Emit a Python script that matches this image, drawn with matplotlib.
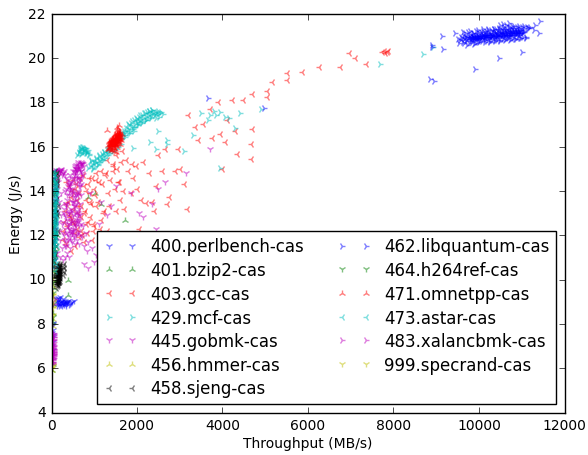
import matplotlib
matplotlib.use('Agg')
import matplotlib.pyplot as plt

plt.style.use('classic')

perlbench_x = [20, 25, 30, 22, 28, 35, 18, 30, 40, 25, 120, 150, 180, 200, 230, 260, 290, 310, 340, 370, 400, 430, 470, 520, 160, 210, 270, 330, 390, 140, 240, 300, 60, 80, 90, 100, 350, 450, 170, 190, 220, 250, 280, 320, 360, 135, 155, 175, 60, 70, 45, 85, 55, 75]
perlbench_y = [7.0, 7.2, 7.4, 7.6, 7.7, 7.5, 7.9, 8.0, 8.05, 6.8, 9.0, 8.9, 9.1, 8.85, 9.0, 8.95, 8.85, 9.05, 8.9, 8.95, 8.85, 8.9, 9.0, 9.05, 9.15, 9.2, 9.1, 8.8, 9.05, 8.8, 8.8, 8.95, 10.5, 11.2, 12.3, 13.1, 9.0, 8.95, 8.95, 9.0, 8.85, 9.05, 8.9, 8.95, 9.0, 9.1, 9.05, 8.8, 11.8, 12.8, 14.1, 13.6, 14.6, 10.9]

bzip2_x = [20, 25, 30, 35, 40, 45, 50, 55, 60, 30, 40, 50, 70, 80, 380, 390, 860, 1020, 1160, 1730, 90, 120, 140, 60, 45, 35]
bzip2_y = [5.9, 6.2, 8.1, 8.5, 8.9, 9.2, 9.6, 10.1, 10.6, 11.1, 11.6, 12.1, 12.6, 13.2, 10.0, 9.3, 13.7, 13.9, 13.4, 12.7, 11.1, 12.0, 13.0, 14.0, 14.4, 14.8]

gcc_x = [7730, 7770, 7810, 7850, 7880, 6950, 7100, 7350, 6750, 6250, 5850, 5500, 5500, 5150, 5050, 5050, 4700, 4480, 4220, 3900, 3700, 4700, 4670, 4350, 4670, 4050, 4000, 3950, 4300, 4100, 3350, 3200, 3420, 2950, 3000, 2900, 3180, 2700, 2350, 2100, 2200, 2000, 1900, 2500, 2650, 1750, 1650, 1500, 1450, 1300, 1250, 1150, 1100, 1050, 1000, 950, 900, 850, 800, 750, 700, 650, 600, 550, 500, 450, 400, 350, 300, 1700, 1600, 1500, 1350, 1200, 1050, 1150, 900, 1000, 800, 700, 600, 500, 1300, 1250, 1100, 950, 750, 650, 550, 450, 350, 1700, 1850, 2050, 1450, 1550, 2400, 2750, 3100, 3550, 3750, 2450, 2150,
         260, 310, 360, 410, 460, 510, 560, 610, 660, 710, 760, 810, 860, 910, 960, 1010, 280, 330, 380, 430, 480, 530, 580, 630, 680, 730, 780, 830, 880, 930, 980, 1030, 1080, 1130, 1180, 1230, 1280, 1330, 1380, 1430, 1480, 1530, 1580, 1630, 1680, 1780, 1880, 1980, 2280, 2580]
gcc_y = [20.25, 20.3, 20.2, 20.25, 20.3, 20.2, 20.0, 19.7, 19.6, 19.6, 19.35, 19.3, 19.0, 18.9, 18.5, 18.25, 18.35, 18.1, 18.1, 18.0, 17.7, 16.8, 16.1, 15.65, 15.45, 16.2, 15.0, 16.55, 16.7, 17.2, 16.9, 17.4, 16.3, 15.9, 15.0, 14.9, 13.2, 13.4, 13.5, 13.6, 13.45, 14.1, 14.6, 15.6, 15.9, 15.4, 15.8, 15.6, 14.9, 15.4, 14.7, 14.9, 14.4, 14.8, 14.1, 14.6, 13.9, 14.3, 13.6, 14.2, 13.3, 13.9, 13.6, 14.1, 13.2, 13.7, 12.9, 13.4, 12.6, 13.2, 13.6, 13.1, 13.3, 13.0, 13.3, 12.7, 12.8, 12.4, 12.5, 12.8, 12.3, 12.6, 12.2, 11.9, 12.1, 11.8, 11.7, 11.9, 11.5, 11.3, 11.6, 12.0, 13.9, 12.3, 15.2, 14.4, 13.1, 13.7, 14.3, 17.0, 16.4, 14.2, 15.3,
         12.2, 13.1, 12.4, 14.2, 12.7, 14.5, 12.1, 13.3, 14.6, 12.0, 13.0, 14.0, 12.6, 13.5, 12.2, 13.8, 11.8, 14.4, 13.5, 12.8, 14.0, 12.5, 14.3, 13.0, 12.2, 14.7, 13.1, 12.1, 14.6, 13.4, 12.5, 14.5, 13.5, 12.3, 14.3, 13.1, 14.8, 13.9, 14.5, 15.1, 14.1, 15.0, 14.4, 15.3, 14.0, 14.9, 15.2, 15.1, 14.8, 14.9]

mcf_x = [1900, 1950, 2000, 2050, 2100, 2150, 2200, 2250, 2300, 2350, 2400, 2450, 1800, 1850, 1750, 1700, 1650, 1600, 1550, 1500, 1450, 1400, 1350, 1300, 1250, 1200, 1150, 1100, 1050, 1000, 950, 900, 850, 800, 750, 700, 650, 600, 680, 720, 760, 800, 840, 880, 920, 1780, 1880, 1980, 2080, 2180, 2280, 2020, 2120, 2220, 2320, 1120, 1220, 1320, 1180, 1080, 980, 1030, 930, 1930, 1830, 1730, 1630, 2600, 2350, 3500, 3800, 3950, 4150, 4400, 4900, 3650, 3700, 3850, 4050, 2500, 2700, 7685, 8690, 8930, 3100, 3300, 2450, 1900, 4300, 3950, 2700, 2300,
         1660, 1690, 1720, 1750, 1780, 1810, 1840, 1870, 1900, 1930, 1960, 1990, 2020, 2050, 2080, 2110, 2140, 2170, 2200, 2230, 2260, 2290, 2320, 2350, 2380, 960, 990, 1020, 1050, 1080, 1110, 1140, 1170, 1200, 1230, 1260, 1290, 1320, 1350, 1380, 1410, 1440, 1470, 1500, 1530, 1560, 1590, 1620, 1650, 640, 670, 700, 730, 760, 790, 820, 850, 880, 660, 710, 770, 830, 2420, 2460, 2500, 2540, 2570, 2440, 2480, 2520]
mcf_y = [16.9, 17.0, 17.1, 17.15, 17.25, 17.3, 17.35, 17.4, 17.45, 17.5, 17.55, 17.5, 16.8, 16.9, 16.7, 16.6, 16.5, 16.4, 16.3, 16.2, 16.05, 15.9, 15.8, 15.7, 15.6, 15.55, 15.45, 15.4, 15.3, 15.25, 15.2, 15.1, 15.05, 15.7, 15.85, 15.9, 15.75, 15.6, 15.95, 16.0, 15.8, 15.95, 15.75, 15.6, 15.4, 17.0, 17.15, 17.3, 17.4, 17.5, 17.6, 16.95, 17.05, 17.2, 17.3, 15.6, 15.75, 15.9, 15.45, 15.15, 15.05, 15.5, 15.35, 16.7, 16.6, 16.45, 16.65, 17.45, 17.65, 17.5, 17.6, 17.55, 17.3, 17.5, 17.7, 17.2, 17.4, 17.4, 17.35, 16.7, 16.1, 19.7, 20.17, 20.5, 15.8, 16.5, 15.9, 15.95, 16.85, 15.05, 16.3, 16.2,
         16.4, 16.7, 16.5, 16.85, 16.6, 16.95, 16.7, 17.05, 16.8, 17.2, 16.9, 17.25, 17.0, 17.35, 17.1, 17.4, 17.15, 17.5, 17.2, 17.55, 17.3, 17.6, 17.35, 17.65, 17.45, 15.0, 15.3, 15.1, 15.45, 15.2, 15.55, 15.3, 15.65, 15.4, 15.75, 15.5, 15.85, 15.6, 15.95, 15.7, 16.05, 15.8, 16.15, 15.9, 16.2, 16.0, 16.35, 16.1, 16.5, 15.7, 15.95, 15.65, 16.0, 15.75, 15.95, 15.7, 15.85, 15.65, 15.85, 15.7, 15.9, 15.8, 17.4, 17.55, 17.45, 17.5, 17.55, 17.3, 17.6, 17.35]

gobmk_x = [50, 80, 110, 140, 170, 200, 230, 260, 290, 320, 350, 380, 410, 440, 470, 500, 530, 560, 590, 620, 650, 100, 130, 160, 190, 220, 250, 280, 310, 340, 370, 400, 430, 460, 490, 520, 550, 580, 610, 640, 120, 150, 180, 210, 240, 270, 300, 330, 360, 390, 420, 450, 480, 510, 540, 570, 600, 140, 200, 260, 320, 380, 440, 500, 560, 620, 680, 740, 800, 860, 170, 230, 290, 350, 410, 470, 530, 590, 650, 710, 770, 830, 520, 560, 600, 640, 680, 720, 760, 500, 540, 580, 620, 660, 700, 740, 480, 460, 440, 420, 400, 1100, 1200, 1350, 1450, 1300, 1600, 1850, 2150, 2350, 2500, 2650, 2450, 2250, 1050, 1000, 1400, 1700, 1950, 2050, 750, 900, 1150, 1500, 850, 950, 3150, 3700,
           300, 320, 340, 360, 380, 400, 420, 440, 460, 480, 500, 520, 540, 560, 580, 600, 620, 640, 660, 680, 310, 330, 350, 370, 390, 410, 430, 450, 470, 490, 510, 530, 550, 570, 590, 610, 630, 650, 670, 690, 305, 345, 385, 425, 465, 505, 545, 585, 625, 665, 325, 365, 405, 445, 485, 525, 565, 605, 645, 685, 540, 570, 600, 630, 660, 690, 720, 550, 590, 630, 670, 710, 560, 610, 660, 700, 580, 640, 680, 730, 120, 170, 220, 270, 130, 190, 250, 150, 210, 100]
gobmk_y = [14.9, 14.85, 14.95, 14.8, 14.9, 14.85, 14.95, 14.8, 14.9, 14.7, 14.6, 14.5, 14.3, 14.1, 13.9, 13.7, 13.5, 13.3, 13.1, 12.9, 12.7, 14.5, 14.1, 13.7, 13.3, 12.9, 12.5, 12.1, 11.8, 11.5, 11.2, 11.0, 11.4, 11.8, 12.2, 12.6, 13.0, 13.4, 13.8, 14.2, 13.0, 12.6, 12.2, 11.8, 11.4, 12.6, 13.0, 13.4, 13.8, 14.2, 12.3, 12.7, 13.1, 13.5, 13.9, 12.4, 12.8, 11.2, 11.0, 10.9, 11.0, 12.0, 12.1, 12.3, 12.5, 12.2, 12.0, 12.4, 12.1, 11.7, 13.5, 13.9, 13.2, 12.8, 12.5, 12.1, 12.0, 11.8, 11.6, 11.9, 11.5, 11.3, 14.7, 14.85, 15.0, 15.1, 15.2, 15.25, 15.1, 14.9, 15.05, 15.15, 15.3, 15.05, 14.9, 14.7, 14.6, 14.4, 14.2, 14.0, 13.8, 12.5, 12.1, 11.8, 11.4, 12.9, 12.0, 13.9, 12.8, 13.4, 14.1, 14.4, 12.3, 12.0, 11.1, 10.8, 13.3, 11.9, 11.6, 13.0, 10.7, 13.9, 13.5, 14.2, 10.5, 11.4, 14.8, 15.9,
           12.0, 12.9, 11.7, 13.6, 12.4, 14.3, 13.1, 11.9, 12.8, 14.0, 12.2, 13.3, 14.5, 11.6, 12.6, 13.9, 12.1, 13.2, 14.2, 12.5, 12.3, 13.4, 14.1, 12.7, 11.8, 13.0, 14.4, 12.2, 13.5, 11.7, 12.9, 14.6, 13.7, 12.0, 12.7, 14.0, 13.0, 14.4, 12.9, 13.8, 11.5, 13.3, 12.5, 14.7, 13.2, 12.4, 14.3, 13.6, 12.6, 13.4, 14.0, 12.1, 13.0, 12.6, 14.1, 11.9, 13.8, 14.6, 12.4, 14.3, 14.9, 15.0, 14.7, 15.2, 15.0, 15.3, 14.8, 15.1, 14.9, 15.1, 14.6, 15.2, 14.8, 15.05, 14.5, 15.2, 15.0, 14.6, 14.9, 15.2, 14.9, 14.7, 15.0, 14.8, 14.5, 14.9, 14.7, 14.4, 14.95, 14.2]

hmmer_x = [15, 20, 25, 30, 35, 20, 25, 30, 35, 40, 45, 50, 55, 40]
hmmer_y = [5.9, 6.1, 6.3, 7.9, 8.2, 8.5, 8.8, 9.1, 9.4, 9.7, 10.0, 10.4, 10.8, 11.2]

sjeng_x = [130, 140, 150, 160, 170, 180, 190, 200, 110, 120, 135, 145, 155, 165, 175, 185, 195, 130, 140, 150, 160, 170, 180, 190, 200, 115, 125, 210, 105, 125, 145, 165, 135, 155, 175, 195, 255, 270, 285, 300, 275, 290, 30, 40, 50, 60, 70, 80, 90, 100, 35, 45, 55, 65, 75, 85, 95, 105, 40, 50, 60, 70, 80, 90, 100, 30, 45, 65, 85, 110, 130, 150,
          110, 120, 130, 140, 150, 160, 170, 180, 190, 115, 125, 135, 145, 155, 165, 175, 185, 195, 105, 140, 175, 120, 160, 40, 60, 80, 100, 120, 50, 70, 90, 110, 130, 45, 65, 85, 105, 125, 55, 75, 95, 115, 135, 150]
sjeng_y = [9.7, 9.8, 9.9, 10.0, 10.1, 10.2, 10.3, 10.4, 9.6, 9.8, 10.2, 10.3, 10.4, 10.5, 10.55, 10.6, 10.7, 10.5, 10.6, 10.7, 9.75, 9.9, 10.0, 9.95, 10.05, 10.1, 10.3, 10.2, 9.9, 10.7, 10.15, 10.25, 9.95, 9.85, 10.4, 10.55, 10.45, 10.6, 10.5, 10.7, 10.2, 10.35, 10.2, 10.6, 11.0, 11.4, 11.8, 12.2, 12.6, 13.0, 13.4, 13.8, 14.2, 14.6, 14.9, 11.1, 11.5, 11.9, 12.3, 12.7, 13.1, 13.5, 13.9, 14.3, 14.7, 10.8, 11.7, 12.4, 13.2, 14.1, 12.9, 13.3,
          9.9, 10.0, 10.1, 10.2, 10.3, 10.4, 10.45, 10.5, 10.65, 10.05, 10.15, 10.25, 9.9, 10.0, 10.1, 10.2, 10.3, 10.4, 10.1, 9.8, 9.9, 10.4, 10.3, 11.3, 12.0, 12.8, 13.6, 14.4, 11.6, 12.5, 13.3, 14.1, 14.8, 10.9, 11.9, 12.7, 13.5, 14.3, 11.2, 12.1, 13.0, 13.8, 14.6, 12.2]

libquantum_x = [8855, 8950, 8900, 8910, 9135, 9160, 9440, 9905, 10465, 11000, 11420, 11410, 11300, 11200, 11150, 11280, 10490, 10560, 10640, 10770, 10700, 9500, 9530, 9580, 9620, 9660, 9700, 9740, 9780, 9820, 9860, 9900, 9940, 9980, 10020, 10060, 10100, 10140, 10180, 10220, 10260, 10300, 10340, 10380, 10420, 10460, 10500, 10540, 10580, 10620, 10660, 10700, 10740, 10780, 10820, 10860, 10900, 10940, 10980, 11020, 11060, 11100,
                9560, 9610, 9650, 9690, 9730, 9770, 9810, 9850, 9890, 9930, 9970, 10010, 10050, 10090, 10130, 10170, 10210, 10250, 10290, 10330, 10370, 10410, 10450, 10490, 10530, 10570, 10610, 10650, 10690, 10730, 10770, 10810, 10850, 10890, 10930, 10970, 11010, 11050,
                9800, 9830, 9860, 9890, 9920, 9950, 9980, 10010, 10040, 10070, 10100, 10130, 10160, 10190, 10220, 10250, 10280, 10310, 10340, 10370, 10400, 10430, 10460, 10490, 10520, 10550, 10580, 10610, 10640, 10670, 10700, 10730, 10760, 10790, 10820, 10850, 10880, 10910, 10940, 10970,
                9810, 9845, 9875, 9905, 9935, 9965, 9995, 10025, 10055, 10085, 10115, 10145, 10175, 10205, 10235, 10265, 10295, 10325, 10355, 10385, 10415, 10445, 10475, 10505, 10535, 10565, 10595, 10625, 10655, 10685, 10715, 10745, 10775, 10805, 10835, 10865, 10895, 10925, 10955, 10985,
                4980, 3650, 9700, 9850, 10000, 10150, 10300, 10450, 10600, 10750, 10900, 11050,
                9620, 9680, 9740, 9800, 9860, 9920, 9980, 10040, 10100, 10160, 10220, 10280, 10340, 10400, 10460, 10520, 10580, 10640, 10700, 10760, 10820, 10880, 10940, 11000, 11060, 11120, 11180,
                9650, 9710, 9770, 9830, 9890, 9950, 10010, 10070, 10130, 10190, 10250, 10310, 10370, 10430, 10490, 10550, 10610, 10670, 10730, 10790, 10850, 10910, 10970, 11030, 11090]
libquantum_y = [19.05, 18.95, 20.6, 20.5, 21.0, 20.4, 21.1, 19.5, 20.0, 20.25, 21.65, 21.1, 21.5, 21.4, 21.35, 21.25, 21.5, 21.52, 21.5, 21.45, 21.55, 20.85, 20.65, 20.95, 20.7, 21.0, 20.75, 20.9, 21.05, 20.75, 21.1, 20.65, 20.9, 21.15, 20.75, 21.0, 21.2, 20.8, 21.05, 21.25, 20.75, 21.0, 21.3, 20.8, 21.05, 21.3, 20.8, 21.05, 21.3, 20.85, 21.1, 21.35, 20.85, 21.1, 21.35, 20.85, 21.1, 21.35, 20.9, 21.15, 21.35, 20.95,
                20.8, 20.9, 20.85, 20.95, 20.85, 20.95, 20.85, 20.95, 20.9, 21.0, 20.9, 21.0, 20.9, 21.0, 20.95, 21.05, 20.95, 21.05, 20.95, 21.05, 20.95, 21.05, 21.0, 21.1, 21.0, 21.1, 21.0, 21.1, 21.0, 21.1, 21.05, 21.15, 21.05, 21.15, 21.05, 21.15, 21.1, 21.2,
                20.95, 20.85, 20.95, 20.85, 20.95, 20.9, 21.0, 20.9, 21.0, 20.95, 21.05, 20.95, 21.05, 20.95, 21.05, 20.95, 21.05, 21.0, 21.1, 21.0, 21.1, 21.0, 21.1, 21.0, 21.1, 21.05, 21.15, 21.05, 21.15, 21.05, 21.15, 21.05, 21.15, 21.1, 21.2, 21.1, 21.2, 21.1, 21.2, 21.1,
                20.9, 21.0, 20.9, 21.0, 20.85, 21.0, 20.9, 21.05, 20.9, 21.05, 20.95, 21.1, 20.95, 21.1, 20.95, 21.1, 21.0, 21.15, 21.0, 21.15, 21.0, 21.15, 21.0, 21.15, 21.05, 21.2, 21.05, 21.2, 21.05, 21.2, 21.05, 21.2, 21.1, 21.25, 21.1, 21.25, 21.1, 21.25, 21.1, 21.25,
                17.75, 18.2, 20.95, 21.0, 20.95, 21.0, 21.0, 21.05, 21.05, 21.1, 21.1, 21.15,
                21.15, 21.1, 21.18, 21.2, 21.12, 21.22, 21.25, 21.18, 21.28, 21.22, 21.3, 21.25, 21.32, 21.28, 21.35, 21.3, 21.38, 21.32, 21.4, 21.35, 21.42, 21.38, 21.45, 21.4, 21.42, 21.38, 21.36,
                20.65, 20.6, 20.68, 20.7, 20.62, 20.72, 20.7, 20.75, 20.7, 20.78, 20.72, 20.8, 20.75, 20.82, 20.78, 20.85, 20.8, 20.88, 20.82, 20.9, 20.85, 20.92, 20.88, 20.95, 20.9]

h264ref_x = [30, 35, 40, 45, 50, 55, 60, 65, 40, 50, 60, 70, 75, 80, 90, 100]
h264ref_y = [8.3, 8.9, 9.4, 9.9, 10.4, 10.9, 11.4, 11.9, 12.4, 12.9, 13.4, 13.9, 14.4, 14.8, 12.1, 11.3]

omnetpp_x = [1350, 1380, 1400, 1420, 1440, 1460, 1480, 1500, 1520, 1540, 1560, 1580, 1600, 1620, 1640, 1360, 1390, 1410, 1430, 1450, 1470, 1490, 1510, 1530, 1550, 1570, 1590, 1610, 1630, 1370, 1400, 1430, 1460, 1490, 1520, 1550, 1580, 1610, 1300, 1330, 1320, 1345, 1375, 1405, 1435, 1465, 1495, 1525, 1555, 1585, 1405, 1445, 1485, 1525, 1565, 1605, 1535, 1575, 1505, 1455, 1500, 1540,
             1340, 1365, 1385, 1415, 1425, 1445, 1455, 1475, 1485, 1505, 1515, 1535, 1545, 1565, 1575, 1595, 1605, 1355, 1375, 1395, 1420, 1440, 1460, 1480, 1500, 1520, 1540, 1560, 1580, 1600, 1350, 1390, 1430, 1470, 1510, 1550, 1590, 1410, 1450, 1490, 1530, 1570]
omnetpp_y = [15.9, 16.0, 16.1, 15.85, 16.0, 16.15, 16.3, 16.1, 16.25, 16.4, 16.2, 16.35, 16.5, 16.3, 16.55, 16.15, 16.25, 15.95, 16.2, 16.35, 15.95, 16.05, 16.45, 16.0, 16.5, 16.55, 16.25, 16.65, 16.45, 16.3, 15.85, 16.05, 16.25, 15.9, 16.05, 16.1, 16.6, 16.1, 16.75, 15.9, 16.05, 16.2, 16.1, 16.15, 16.3, 16.5, 16.4, 16.6, 16.65, 16.7, 16.35, 16.45, 16.55, 16.75, 16.85, 16.35, 16.9, 16.95, 16.45, 15.8, 15.75, 16.6,
             16.0, 16.1, 16.2, 16.05, 16.25, 16.15, 16.3, 16.15, 16.35, 16.25, 16.35, 16.3, 16.45, 16.35, 16.5, 16.45, 16.55, 15.95, 16.05, 16.15, 16.3, 16.1, 16.2, 16.4, 16.2, 16.4, 16.2, 16.4, 16.45, 16.4, 16.25, 16.3, 16.35, 16.1, 16.15, 16.25, 16.35, 16.05, 16.05, 16.5, 16.5, 16.6]

astar_x = [20, 30, 40, 50, 60, 70, 80, 90, 100, 110, 25, 35, 45, 55, 65, 75, 85, 95, 105, 115, 30, 40, 50, 60, 70, 80, 90, 100, 110, 120, 35, 55, 75, 95, 115, 45, 65, 85, 105, 125, 20, 50, 80, 110, 40, 70, 100, 30, 60, 90,
           35, 45, 55, 65, 75, 85, 40, 50, 60, 70, 80, 90, 30, 55, 80, 105, 42, 67, 92, 117, 48, 73, 98, 38, 63, 88, 33, 58, 83, 108]
astar_y = [10.6, 10.8, 11.0, 11.2, 11.4, 11.6, 11.8, 12.0, 12.2, 12.4, 12.6, 12.8, 13.0, 13.2, 13.4, 13.6, 13.8, 14.0, 14.2, 14.4, 14.6, 14.8, 14.9, 14.7, 14.5, 14.3, 14.1, 13.9, 13.7, 13.5, 13.3, 13.1, 12.9, 12.7, 12.5, 12.3, 12.1, 11.9, 11.7, 11.5, 11.3, 11.1, 10.9, 10.7, 14.2, 12.4, 12.8, 13.6, 11.8, 10.4,
           11.5, 12.0, 12.5, 13.0, 13.5, 14.0, 11.7, 12.2, 12.7, 13.2, 13.7, 14.2, 14.5, 14.1, 13.1, 12.1, 11.3, 12.6, 13.4, 14.0, 11.1, 11.9, 12.9, 13.9, 14.4, 13.3, 12.3, 11.6, 14.7, 12.6]

xalancbmk_x = [30, 35, 40, 45, 50, 55, 60, 35, 40, 45, 50, 55, 60, 65, 40, 45, 50, 55, 60, 65, 45, 50, 55, 70, 75,
               35, 40, 45, 50, 55, 60, 40, 45, 50, 55, 60, 45, 50, 55, 60]
xalancbmk_y = [6.2, 6.3, 6.4, 6.5, 6.6, 6.7, 6.8, 6.9, 7.0, 7.1, 7.2, 7.3, 7.4, 7.5, 6.25, 6.45, 6.65, 6.85, 7.05, 7.25, 6.35, 6.55, 6.75, 8.9, 9.1,
               6.28, 6.42, 6.58, 6.72, 6.88, 7.02, 7.15, 7.28, 7.42, 7.55, 7.6, 6.95, 6.78, 6.62, 6.48]

specrand_x = [20, 25, 30, 35, 28, 32]
specrand_y = [6.0, 6.1, 8.4, 8.7, 9.0, 9.3]

labels = ['400.perlbench-cas', '401.bzip2-cas', '403.gcc-cas', '429.mcf-cas', '445.gobmk-cas',
          '456.hmmer-cas', '458.sjeng-cas', '462.libquantum-cas', '464.h264ref-cas',
          '471.omnetpp-cas', '473.astar-cas', '483.xalancbmk-cas', '999.specrand-cas']
xs = [perlbench_x, bzip2_x, gcc_x, mcf_x, gobmk_x, hmmer_x, sjeng_x, libquantum_x, h264ref_x,
      omnetpp_x, astar_x, xalancbmk_x, specrand_x]
ys = [perlbench_y, bzip2_y, gcc_y, mcf_y, gobmk_y, hmmer_y, sjeng_y, libquantum_y, h264ref_y,
      omnetpp_y, astar_y, xalancbmk_y, specrand_y]
colors = 'bgrcmykbgrcmy'
markers = '1234123412341'

fig = plt.figure(figsize=(5.88, 4.56), dpi=100, facecolor='white')
ax = fig.add_axes([51.5 / 588, 1 - 413.5 / 456, 513 / 588, 399 / 456])
for i in range(len(labels)):
    ax.plot(xs[i], ys[i], ls='none', marker=markers[i], color=colors[i], mec=colors[i],
            alpha=0.5, ms=5, mew=1, label=labels[i])

ax.set_xlim(0, 12000)
ax.set_ylim(4, 22)
ax.tick_params(labelsize=10)
ax.set_xlabel('Throughput (MB/s)', fontsize=10, labelpad=3)
ax.set_ylabel('Energy (J/s)', fontsize=10, labelpad=4)
ax.legend(loc='lower right', ncol=2, numpoints=2, fontsize=12, fancybox=False, framealpha=1,
          borderaxespad=0.5, labelspacing=0.34, handlelength=2, handletextpad=0.8,
          borderpad=0.4, columnspacing=2)
fig.savefig('out.png', dpi=100, facecolor='white')
